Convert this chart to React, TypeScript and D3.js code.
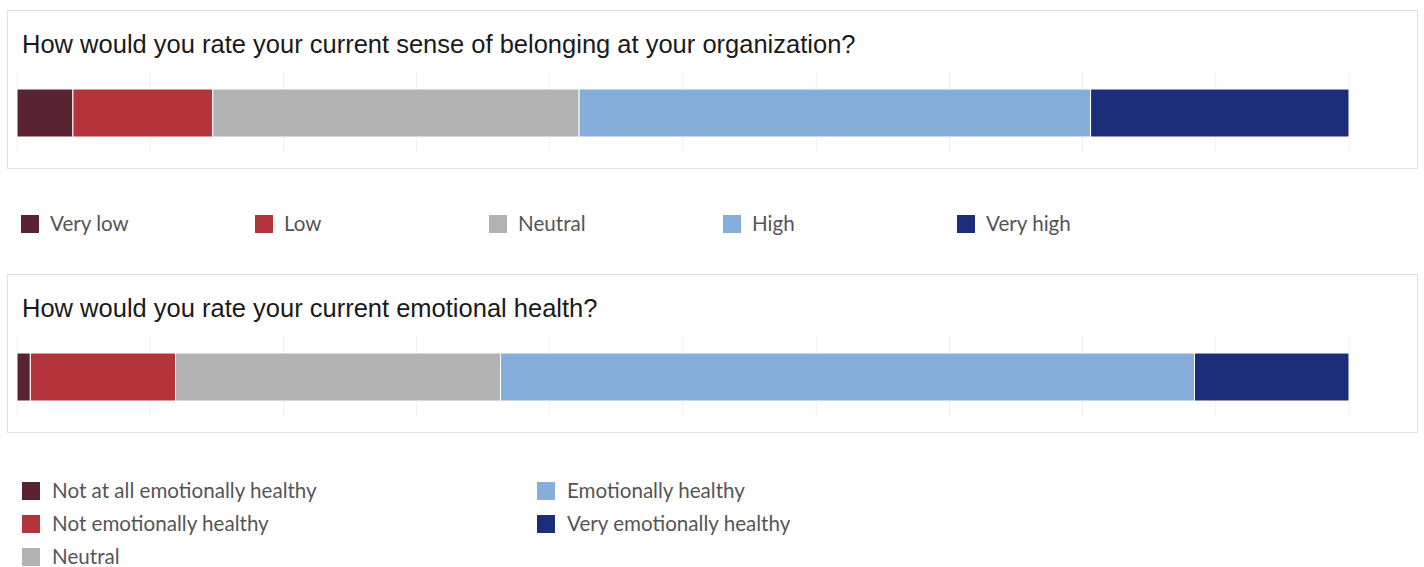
import React, { useEffect, useRef } from "react";
import * as d3 from "d3";

const belongingCategories = ["Very low", "Low", "Neutral", "High", "Very high"];
const belongingValues = [4.2, 10.5, 27.5, 38.4, 19.4];
const healthCategories = [
  "Not at all emotionally healthy",
  "Not emotionally healthy",
  "Neutral",
  "Emotionally healthy",
  "Very emotionally healthy",
];
const healthValues = [1.0, 10.9, 24.4, 52.1, 11.6];
const palette = ["#5a2331", "#b3353b", "#b2b2b2", "#85aedb", "#1b2d7b"];
const xTicks = [0, 10, 20, 30, 40, 50, 60, 70, 80, 90, 100];
const titles = [
  "How would you rate your current sense of belonging at your organization?",
  "How would you rate your current emotional health?",
];

const W = 1424;
const H = 567;

export default function App() {
  const ref = useRef<SVGSVGElement | null>(null);

  useEffect(() => {
    const svg = d3.select(ref.current);
    svg.selectAll("*").remove();

    const x = d3.scaleLinear().domain([0, 100]).range([17, 1349]);

    const panels = [
      { top: 10, title: titles[0], cats: belongingCategories, vals: belongingValues },
      { top: 274, title: titles[1], cats: healthCategories, vals: healthValues },
    ];

    panels.forEach((p) => {
      const g = svg.append("g").attr("transform", `translate(0,${p.top})`);
      g.append("rect")
        .attr("x", 7.5)
        .attr("y", 0.5)
        .attr("width", 1410)
        .attr("height", 158)
        .attr("fill", "#fff")
        .attr("stroke", "#e2e2e2");
      g.append("text")
        .attr("x", 22)
        .attr("y", 42.5)
        .attr("font-family", "Liberation Sans, Arial, sans-serif")
        .attr("font-size", 25.5)
        .attr("fill", "#1a1a1a")
        .text(p.title);
      g.selectAll("line.grid")
        .data(xTicks)
        .enter()
        .append("line")
        .attr("x1", (d) => x(d))
        .attr("x2", (d) => x(d))
        .attr("y1", 62)
        .attr("y2", 142)
        .attr("stroke", "#f0f0f0")
        .attr("stroke-width", 1);
      const stacked = d3.cumsum(p.vals);
      const segs = p.vals.map((v, i) => ({ start: stacked[i] - v, end: stacked[i], i }));
      g.selectAll("rect.seg")
        .data(segs)
        .enter()
        .append("rect")
        .attr("x", (d) => x(d.start))
        .attr("y", 79)
        .attr("width", (d) => x(d.end) - x(d.start))
        .attr("height", 48)
        .attr("fill", (d) => palette[d.i])
        .attr("stroke", "#fff")
        .attr("stroke-width", 1);
    });

    const legendFont = "Lato, 'Open Sans', sans-serif";
    const legendSize = 20.6;
    // Legend 1: single row
    const l1 = svg.append("g");
    belongingCategories.forEach((c, i) => {
      const lx = 21 + i * 234;
      l1.append("rect").attr("x", lx).attr("y", 215).attr("width", 18).attr("height", 18).attr("fill", palette[i]);
      l1.append("text")
        .attr("x", lx + 29)
        .attr("y", 224)
        .attr("dy", "0.35em")
        .attr("font-family", legendFont)
        .attr("font-size", legendSize)
        .attr("fill", "#555")
        .text(c);
    });

    // Legend 2: two columns, column-major with 3 rows
    const l2 = svg.append("g");
    healthCategories.forEach((c, i) => {
      const col = Math.floor(i / 3);
      const row = i % 3;
      const lx = 22 + col * 515;
      const ly = 491 + row * 33;
      l2.append("rect").attr("x", lx).attr("y", ly - 9).attr("width", 18).attr("height", 18).attr("fill", palette[i]);
      l2.append("text")
        .attr("x", lx + 30)
        .attr("y", ly)
        .attr("dy", "0.35em")
        .attr("font-family", legendFont)
        .attr("font-size", legendSize)
        .attr("fill", "#555")
        .text(c);
    });
  }, []);

  return (
    <svg
      ref={ref}
      width={W}
      height={H}
      style={{ position: "absolute", left: 0, top: 0, background: "#fff" }}
    />
  );
}
